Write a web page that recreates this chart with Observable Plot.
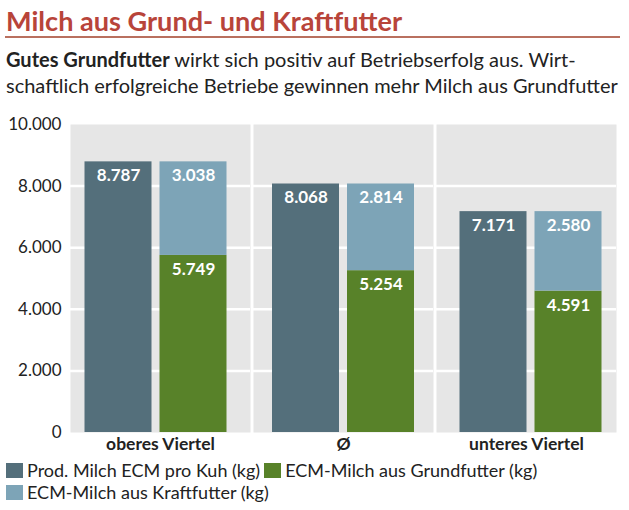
<!DOCTYPE html>
<html>
<head>
<meta charset="utf-8">
<script src="https://cdn.jsdelivr.net/npm/d3@7"></script>
<script src="https://cdn.jsdelivr.net/npm/@observablehq/plot@0.6"></script>
<style>
  html, body { margin: 0; padding: 0; background: #fff; }
  body { width: 629px; height: 510px; overflow: hidden; font-family: Lato, "Open Sans", sans-serif; color: #222; }
  #title { height: 30px; padding-top: 6px; line-height: 30px; margin: 0 9px 0 5px; border-bottom: 2px solid #b9705f; white-space: nowrap; }
  #title span { display: inline-block; font-weight: 700; font-size: 26px; color: #b8443a; transform-origin: 0 50%; padding-left: 1px; }
  #subtitle { height: 64px; padding-top: 8px; padding-left: 6px; font-size: 20px; line-height: 26px; white-space: nowrap; }
  #subtitle b { font-weight: 700; }
  #chart svg { display: block; }
  #legend { display: flex; flex-wrap: wrap; width: 600px; margin-left: 6px; font-size: 18px; line-height: 22px; column-gap: 4px; }
  #legend .item { display: flex; align-items: center; gap: 4px; }
  #legend .sw { width: 17px; height: 15px; }
</style>
</head>
<body>
<div id="title"><span>Milch aus Grund- und Kraftfutter</span></div>
<div id="subtitle"><b>Gutes Grundfutter</b> wirkt sich positiv auf Betriebserfolg aus. Wirt-<br>schaftlich erfolgreiche Betriebe gewinnen mehr Milch aus Grundfutter</div>
<div id="chart"></div>
<div id="legend"></div>
<script>
// Data
const categories = ["oberes Viertel", "Ø", "unteres Viertel"];
const seriesNames = ["Prod. Milch ECM pro Kuh (kg)", "ECM-Milch aus Grundfutter (kg)", "ECM-Milch aus Kraftfutter (kg)"];
const prodMilch = [8787, 8068, 7171];
const grundfutter = [5749, 5254, 4591];
const kraftfutter = [3038, 2814, 2580];
const yTicks = [0, 2000, 4000, 6000, 8000, 10000];
const colors = ["#546f7b", "#588229", "#7da4b7"];

// layout: small horizontal shift of each bar group inside its panel
const groupShift = [-4.5, 0, 4.5];

const fmt = d3.formatLocale({decimal: ",", thousands: ".", grouping: [3], currency: ["", ""]}).format(",");

const rows = categories.flatMap((c, i) => [
  {cat: c, slot: "A", series: seriesNames[0], value: prodMilch[i]},
  {cat: c, slot: "B", series: seriesNames[1], value: grundfutter[i]},
  {cat: c, slot: "B", series: seriesNames[2], value: kraftfutter[i]}
]);

// fit title width (condensed look)
const tspan = document.querySelector("#title span");
tspan.style.transform = `scaleX(${397 / tspan.getBoundingClientRect().width})`;

const groupMarks = categories.flatMap((c, i) => {
  const data = rows.filter(d => d.cat === c);
  return [
    Plot.barY(data, {fx: "cat", x: "slot", y: "value", fill: "series", dx: groupShift[i]}),
    Plot.text(data, Plot.stackY2({fx: "cat", x: "slot", y: "value", text: d => fmt(d.value), fill: "#fff", fontWeight: "bold", fontSize: 17, dy: 14, dx: groupShift[i]}))
  ];
});

const chart = Plot.plot({
  width: 629,
  height: 349,
  marginTop: 14,
  marginBottom: 27,
  marginLeft: 69,
  marginRight: 11,
  style: {fontFamily: "Lato, 'Open Sans', sans-serif", color: "#222", background: "transparent"},
  fx: {domain: categories, paddingInner: 0.016, paddingOuter: 0, label: null},
  x: {domain: ["A", "B"], paddingInner: 0.105, paddingOuter: 0.25, axis: null},
  y: {domain: [0, 10000], label: null},
  color: {domain: seriesNames, range: colors},
  marks: [
    Plot.frame({fill: "#e6e6e6", stroke: null}),
    Plot.gridY({ticks: [2000, 4000, 6000, 8000], stroke: "#fff", strokeOpacity: 1, strokeWidth: 2.5}),
    ...groupMarks,
    Plot.axisY({ticks: yTicks, tickFormat: fmt, tickSize: 0, tickPadding: 9, fontSize: 17, label: null}),
    Plot.axisFx({anchor: "bottom", tickSize: 0, tickPadding: 5, fontSize: 17.5, fontWeight: "bold", label: null})
  ]
});
document.getElementById("chart").appendChild(chart);

// Legend from the chart's color scale
const cs = chart.scale("color");
const legend = document.getElementById("legend");
cs.domain.forEach((name, i) => {
  const item = document.createElement("div");
  item.className = "item";
  const sw = document.createElement("div");
  sw.className = "sw";
  sw.style.background = cs.range[i];
  const t = document.createElement("span");
  t.textContent = name;
  item.appendChild(sw);
  item.appendChild(t);
  legend.appendChild(item);
});
</script>
</body>
</html>
